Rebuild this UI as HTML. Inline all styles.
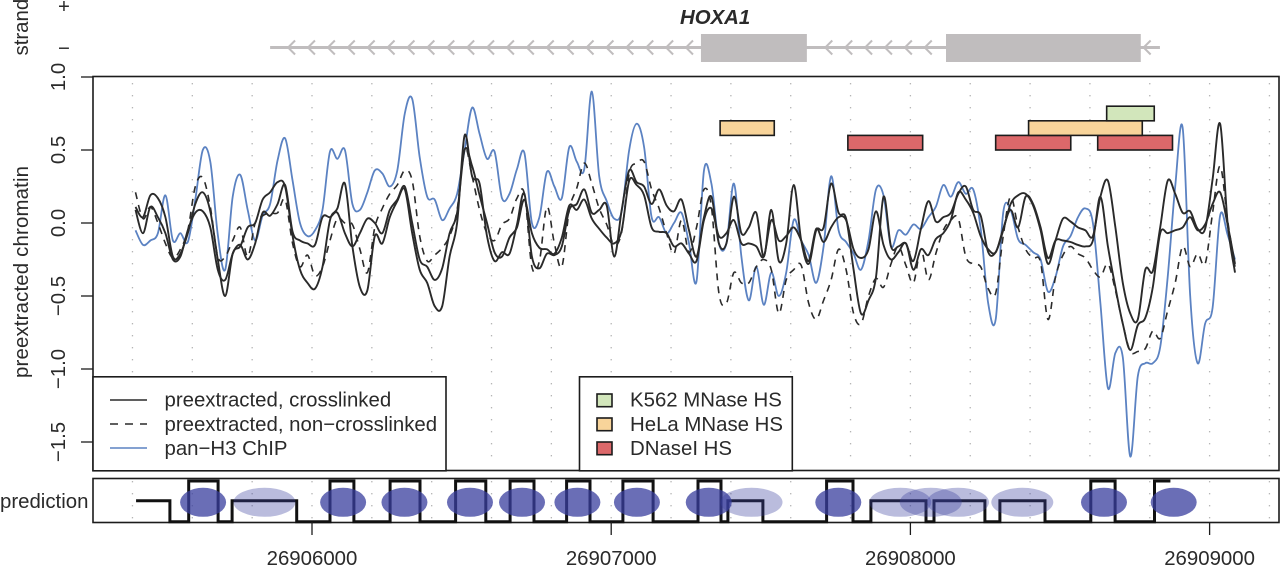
<!DOCTYPE html>
<html lang="en">
<head>
<meta charset="utf-8">
<title>HOXA1 preextracted chromatin</title>
<style>
html,body{margin:0;padding:0;background:#fff;}
body{width:1280px;height:566px;overflow:hidden;}
svg{display:block;filter:blur(0.3px);}
text{font-family:"Liberation Sans",Arial,sans-serif;font-size:20.4px;fill:#2a2a2a;}
</style>
</head>
<body>
<svg id="fig" xmlns="http://www.w3.org/2000/svg" width="1280" height="566" viewBox="0 0 1280 566">
  <g id="gene-layer">
    <text transform="translate(28,55.5) rotate(-90)">strand</text>
    <text x="64" y="13" text-anchor="middle">+</text>
    <text x="64" y="55" text-anchor="middle">−</text>
    <text x="680" y="24" style="font-weight:bold;font-style:italic;">HOXA1</text>
  </g>
  <g id="grid-layer"></g>
  <g id="annot-layer"></g>
  <g id="series-layer"></g>
  <rect x="93" y="76.5" width="1186" height="394" fill="none" stroke="#1c1c1c" stroke-width="1.6"/>
  <g id="yaxis-layer">
    <text transform="translate(28,378) rotate(-90)" textLength="212">preextracted chromatin</text>
  </g>
  <g>
    <rect x="93" y="376.8" width="353" height="94" fill="#fff" stroke="#1c1c1c" stroke-width="1.6"/>
    <line x1="110" x2="147" y1="400" y2="400" stroke="#2a2a2a" stroke-width="1.5"/>
    <line x1="110" x2="147" y1="424" y2="424" stroke="#2a2a2a" stroke-width="1.5" stroke-dasharray="8 7"/>
    <line x1="110" x2="147" y1="448" y2="448" stroke="#5b82c2" stroke-width="1.5"/>
    <text x="164.5" y="406.7">preextracted, crosslinked</text>
    <text x="164.5" y="431">preextracted, non−crosslinked</text>
    <text x="164.5" y="455">pan−H3 ChIP</text>
  </g>
  <g>
    <rect x="579.5" y="376.8" width="212.8" height="94" fill="#fff" stroke="#1c1c1c" stroke-width="1.6"/>
    <rect x="597" y="394" width="15" height="12.7" fill="#d2e6bb" stroke="#1c1c1c" stroke-width="1.6"/>
    <rect x="597" y="418" width="15" height="12.7" fill="#f8d49a" stroke="#1c1c1c" stroke-width="1.6"/>
    <rect x="597" y="442" width="15" height="12.7" fill="#dc686a" stroke="#1c1c1c" stroke-width="1.6"/>
    <text x="630" y="406.7">K562 MNase HS</text>
    <text x="630" y="431">HeLa MNase HS</text>
    <text x="630" y="455">DNaseI HS</text>
  </g>
  <g id="pred-layer">
    <text x="0" y="508">prediction</text>
  </g>
  <g id="xaxis-layer"></g>
</svg>
<script>
// Genomic grid of the sampled signal
const sampleStart = 26905410;
const sampleStep = 25;

// Signal series (one value per grid sample)
const crosslinkedA = [
  .11,.04,.19,.17,.04,-.23,-.21,-.07,.13,.21,
  .08,-.25,-.5,-.21,-.16,-.03,0,.16,.21,.28,
  .25,-.09,-.32,-.41,-.45,-.3,.02,.1,.27,-.16,
  -.44,-.46,-.09,-.14,.04,.15,.23,-.07,-.32,-.41,
  -.57,-.57,-.23,0,.6,.32,.27,-.09,-.26,-.2,
  -.21,-.01,.2,-.23,-.31,-.21,-.22,-.16,.09,.13,
  .23,.07,.09,.12,-.23,.09,.36,.28,.25,.13,
  .23,.12,.08,.16,-.05,-.23,.04,.18,-.14,-.14,
  .18,-.07,-.03,.07,-.23,.09,-.26,-.14,.26,-.12,
  -.28,-.05,-.03,.27,.07,.03,-.32,-.62,-.53,-.37,
  .18,-.16,-.16,-.14,-.26,-.04,.15,.01,.04,.07,
  .2,.25,.09,.05,-.2,-.2,-.05,.13,.19,.2,
  .12,-.05,-.28,-.12,.03,.01,-.03,-.05,-.09,.18,
  .29,-.03,-.41,-.62,-.66,-.32,-.33,-.03,.29,.2,
  .07,.08,-.04,-.04,.3,.68,0,-.34
];
const crosslinkedB = [
  .09,-.07,.11,.04,-.07,-.25,-.23,-.05,.07,.08,
  -.03,-.32,-.39,-.21,-.15,-.25,-.14,.07,.05,.13,
  .26,-.06,-.12,-.14,-.15,.04,.04,.07,-.07,-.16,
  -.07,.03,0,-.07,.09,.16,.25,0,-.25,-.3,
  -.39,-.31,-.07,.07,.5,.39,.19,0,-.2,-.23,
  -.1,-.03,.16,-.07,-.17,-.18,-.21,-.1,.12,.09,
  .16,.03,-.04,-.1,-.14,-.05,.29,.26,.19,-.03,
  -.06,-.07,-.16,-.14,-.21,-.26,.02,.1,-.09,-.07,
  .02,-.14,-.14,-.16,-.23,.02,-.12,-.09,-.03,-.12,
  -.26,-.04,-.13,-.03,.04,.02,-.18,-.24,-.18,.08,
  -.15,-.25,-.2,-.14,-.32,-.18,-.22,-.11,-.07,.02,
  .21,.16,.07,-.09,-.18,-.2,-.04,.09,-.03,.18,
  .13,-.03,-.24,-.12,-.12,-.13,-.15,-.16,-.12,.18,
  -.16,-.44,-.69,-.87,-.7,-.65,-.44,-.07,-.07,-.05,
  -.03,.04,-.05,-.01,.13,.21,-.01,-.28
];
const nonCrosslinked = [
  .21,.03,.11,0,-.14,-.24,-.18,-.05,.25,.31,
  .11,-.23,-.23,-.12,-.03,-.23,0,.05,.07,.07,
  .16,-.14,-.3,-.22,-.36,-.3,-.12,.03,0,-.01,
  -.18,-.34,-.03,.1,.2,.26,.36,.29,-.09,-.26,
  -.22,-.17,-.09,.09,.51,.32,.09,-.07,-.12,-.01,
  .03,.17,.2,-.3,-.26,.11,-.14,-.3,.09,.24,
  .41,.27,.1,-.01,-.15,-.06,.34,.41,.42,.23,
  .1,-.07,-.21,.02,-.2,-.03,.23,.11,-.48,-.55,
  -.34,-.41,-.41,-.3,-.25,-.32,-.62,-.39,-.32,-.29,
  -.55,-.66,-.53,-.39,-.18,-.32,-.62,-.69,-.5,-.38,
  -.44,-.28,-.16,-.29,-.41,-.18,-.39,-.21,-.05,.02,
  .03,-.23,-.28,-.3,-.45,-.48,-.09,.18,-.03,-.18,
  -.24,-.27,-.66,-.37,-.22,-.16,-.21,-.24,-.32,-.37,
  -.28,-.46,-.69,-.88,-.88,-.86,-.74,-.79,-.6,-.41,
  -.16,-.3,-.21,-.28,.07,.39,.02,-.3
];
const panH3 = [
  -.05,-.15,-.12,-.07,.19,-.12,-.07,-.13,.16,.5,
  .42,-.08,-.32,.18,.33,.09,-.12,.05,.13,.43,
  .58,.29,0,-.09,-.05,.09,.49,.44,.5,.13,
  .09,.21,.36,.34,.25,.36,.75,.85,.45,.18,
  .16,.02,.1,.2,.5,.79,.61,.44,.49,.17,
  .2,.37,.48,0,.04,.35,.25,.17,.52,.42,
  .37,.9,.32,.15,.03,.08,.5,.68,.52,.04,
  .04,-.07,0,.07,-.14,-.4,.36,.27,-.14,-.14,
  .27,-.23,-.53,-.3,-.56,-.34,-.5,-.34,.02,-.12,
  -.22,-.41,-.16,.32,-.05,-.13,-.21,-.32,-.12,.23,
  .19,-.16,-.05,-.08,-.01,-.04,.04,.11,.26,.18,
  .28,.2,.23,-.04,-.55,-.66,.07,.09,-.11,-.15,
  -.2,-.25,-.47,-.37,-.16,-.09,.04,.1,0,-.55,
  -1.13,-.89,-.92,-1.6,-1.05,-.96,-.96,-.85,-.37,.25,
  .65,-.5,-.96,-.69,-.58,.05,-.08,-.25
];

// Axis labels
const yTickValues = [-1.5,-1,-.5,0,.5,1];
const yTickLabels = ["−1.5","−1.0","−0.5","0.0","0.5","1.0"];
const xTickValues = [26906000,26907000,26908000,26909000];
const xTickLabels = ["26906000","26907000","26908000","26909000"];
const gridPositions = [26905400,26905600,26905800,26906000,26906200,26906400,26906600,26906800,26907000,26907200,26907400,26907600,26907800,26908000,26908200,26908400,26908600,26908800,26909000,26909200];

// Hypersensitive site annotations (start, end)
const dnaseStarts = [26907791,26908285,26908626];
const dnaseEnds = [26908041,26908536,26908876];
const helaStarts = [26907364,26908395];
const helaEnds = [26907545,26908775];
const k562Starts = [26908656];
const k562Ends = [26908815];

// Gene model
const geneStart = 26905860;
const geneEnd = 26908834;
const exonStarts = [26907300,26908119];
const exonEnds = [26907654,26908770];

// Nucleosome prediction: segment boundaries and state (0 low, 1 mid, 2 high)
const predictionEdges = [26905412,26905525,26905588,26905686,26905733,26905949,26906060,26906140,26906261,26906361,26906480,26906581,26906662,26906742,26906851,26906929,26907039,26907140,26907290,26907367,26907390,26907507,26907720,26907808,26907868,26908052,26908079,26908249,26908299,26908450,26908603,26908684,26908816,26908869];
const predictionStates = [1,0,2,0,1,0,2,0,2,0,2,0,2,0,2,0,2,0,2,0,1,0,2,0,1,0,1,0,1,0,2,0,2];
const strongNucleosomes = [26905636,26906104,26906309,26906528,26906702,26906887,26907086,26907326,26907759,26908647,26908880];
const weakNucleosomes = [26905841,26907469,26907966,26908068,26908159,26908374];

// Axis functions
const NS = "http://www.w3.org/2000/svg";
const X = bp => 312 + (bp - 26906000) * 0.2992;
const Y = v => 223 - 146 * v;
const predY = s => [521.7, 500.7, 481][s];
function mk(tag, parent, attrs) {
  const el = document.createElementNS(NS, tag);
  for (const k in attrs) el.setAttribute(k, attrs[k]);
  parent.appendChild(el);
  return el;
}
const gridL = document.getElementById("grid-layer");
const annotL = document.getElementById("annot-layer");
const seriesL = document.getElementById("series-layer");
const yL = document.getElementById("yaxis-layer");
const xL = document.getElementById("xaxis-layer");
const predL = document.getElementById("pred-layer");
const geneL = document.getElementById("gene-layer");

// Gridlines in both panels
gridPositions.forEach(p => {
  const main = mk("line", gridL, {x1:X(p),x2:X(p),y1:83,y2:466,stroke:"#b5b5b5","stroke-width":1.3,"stroke-dasharray":"1.4 10.6"});
  
  
  const sub = mk("line", gridL, {x1:X(p),x2:X(p),y1:481,y2:520,stroke:"#b5b5b5","stroke-width":1.3,"stroke-dasharray":"1.4 10.6"});
  
  
});

// Annotation rectangles
function annotRow(starts, ends, lo, hi, fill, name) {
  starts.forEach((s, i) => {
    const r = mk("rect", annotL, {x:X(s),y:Y(hi),width:X(ends[i])-X(s),height:Y(lo)-Y(hi),fill:fill,stroke:"#1c1c1c","stroke-width":1.6});
    
    
  });
}
annotRow(dnaseStarts, dnaseEnds, .5, .6, "#dc686a", "dnase-hs-region");
annotRow(helaStarts, helaEnds, .6, .7, "#f8d49a", "hela-mnase-hs-region");
annotRow(k562Starts, k562Ends, .7, .8, "#d2e6bb", "k562-mnase-hs-region");

// Signal lines, smoothed through every sample with Catmull-Rom curves
function seriesPath(values, stroke, width, dash, name) {
  const pts = values.map((v, i) => [X(sampleStart + i * sampleStep), Y(v)]);
  let d = "M" + pts[0][0].toFixed(1) + " " + pts[0][1].toFixed(1);
  for (let i = 0; i < pts.length - 1; i++) {
    const p0 = pts[Math.max(i - 1, 0)], p1 = pts[i], p2 = pts[i + 1], p3 = pts[Math.min(i + 2, pts.length - 1)];
    const c1x = p1[0] + (p2[0] - p0[0]) / 6, c1y = p1[1] + (p2[1] - p0[1]) / 6;
    const c2x = p2[0] - (p3[0] - p1[0]) / 6, c2y = p2[1] - (p3[1] - p1[1]) / 6;
    d += "C" + c1x.toFixed(1) + " " + c1y.toFixed(1) + " " + c2x.toFixed(1) + " " + c2y.toFixed(1) + " " + p2[0].toFixed(1) + " " + p2[1].toFixed(1);
  }
  const attrs = {d:d,fill:"none",stroke:stroke,"stroke-width":width,"stroke-linejoin":"round"};
  if (dash) attrs["stroke-dasharray"] = dash;
  const p = mk("path", seriesL, attrs);
  
  
}
seriesPath(panH3, "#5b82c2", 1.8, null, "series-pan-h3-chip");
seriesPath(nonCrosslinked, "#2a2a2a", 1.6, "7 6", "series-non-crosslinked");
seriesPath(crosslinkedA, "#2a2a2a", 1.9, null, "series-crosslinked-replicate-1");
seriesPath(crosslinkedB, "#2a2a2a", 1.9, null, "series-crosslinked-replicate-2");

// Y axis
yTickValues.forEach((v, i) => {
  const t = mk("line", yL, {x1:81,x2:93,y1:Y(v),y2:Y(v),stroke:"#1c1c1c","stroke-width":1.3});
  
  
  const l = mk("text", yL, {transform:"translate(65," + Y(v) + ") rotate(-90)","text-anchor":"middle"});
  l.textContent = yTickLabels[i];
  
  
});

// Gene model
const geneLine = mk("line", geneL, {x1:X(geneStart),x2:X(geneEnd),y1:47.5,y2:47.5,stroke:"#c0bdbe","stroke-width":3});


for (let bp = geneStart + 60; bp < geneEnd; bp += 66.5) {
  const inExon = exonStarts.some((s, i) => bp + 28 > s && bp - 4 < exonEnds[i]);
  if (inExon) continue;
  const tip = X(bp);
  const c = mk("path", geneL, {d:"M" + (tip+7) + " 40.5L" + tip + " 47.5L" + (tip+7) + " 54.5",fill:"none",stroke:"#c0bdbe","stroke-width":2});
  
  
}
exonStarts.forEach((s, i) => {
  const e = mk("rect", geneL, {x:X(s),y:34,width:X(exonEnds[i])-X(s),height:28,fill:"#c0bdbe"});
  
  
});

// Prediction panel
const frame = mk("rect", predL, {x:93,y:478.5,width:1186,height:44,fill:"none",stroke:"#1c1c1c","stroke-width":1.6});


let stepD = "M" + X(predictionEdges[0]) + " " + predY(predictionStates[0]);
predictionStates.forEach((s, i) => {
  stepD += "L" + X(predictionEdges[i+1]).toFixed(1) + " " + predY(s);
  if (i + 1 < predictionStates.length) stepD += "L" + X(predictionEdges[i+1]).toFixed(1) + " " + predY(predictionStates[i+1]);
});
const stepLine = mk("path", predL, {d:stepD,fill:"none",stroke:"#111","stroke-width":3});


weakNucleosomes.forEach(c => {
  const e = mk("ellipse", predL, {cx:X(c),cy:502.3,rx:31,ry:14.5,fill:"rgb(56,62,157)","fill-opacity":.35});
  
  
});
strongNucleosomes.forEach(c => {
  const e = mk("ellipse", predL, {cx:X(c),cy:502.3,rx:23,ry:14.5,fill:"rgb(56,62,157)","fill-opacity":.75});
  
  
});

// X axis
xTickValues.forEach((v, i) => {
  const t = mk("line", xL, {x1:X(v),x2:X(v),y1:522,y2:535,stroke:"#1c1c1c","stroke-width":1.3});
  
  
  const l = mk("text", xL, {x:X(v),y:565,"text-anchor":"middle"});
  l.textContent = xTickLabels[i];
  
  
});
</script>
</body>
</html>
